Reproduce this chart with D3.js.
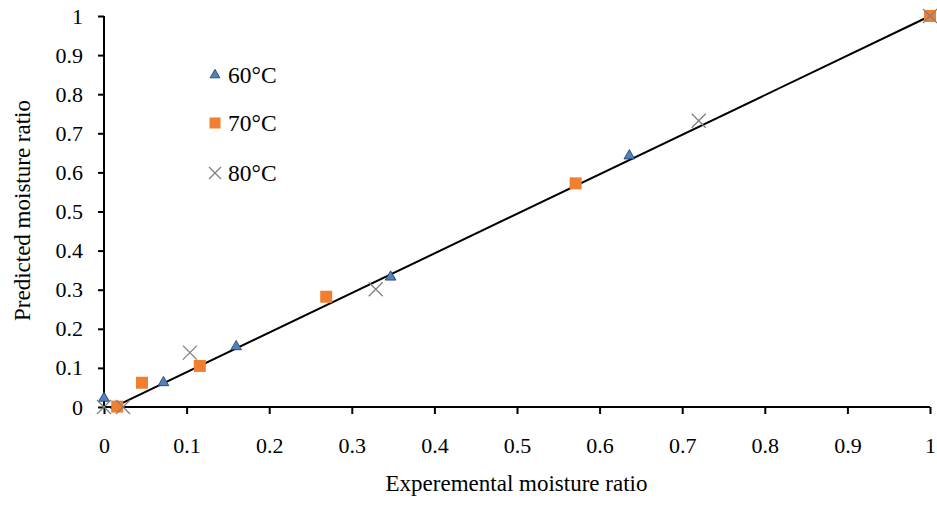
<!DOCTYPE html>
<html>
<head>
<meta charset="utf-8">
<script src="https://cdn.jsdelivr.net/npm/d3@7"></script>
<style>
  body { margin: 0; background: #fff; }
  text { font-family: "Liberation Serif", "Times New Roman", serif; }
</style>
</head>
<body>
<div id="chart-area"></div>
<script>
// data
var ticks = [0, 0.1, 0.2, 0.3, 0.4, 0.5, 0.6, 0.7, 0.8, 0.9, 1];
var x60 = [0, 0.072, 0.160, 0.347, 0.636, 1];
var y60 = [0.025, 0.065, 0.157, 0.335, 0.645, 1];
var x70 = [0.016, 0.046, 0.116, 0.269, 0.571, 1];
var y70 = [0.001, 0.062, 0.105, 0.282, 0.572, 1];
var x80 = [0, 0.023, 0.104, 0.329, 0.720, 1];
var y80 = [0, 0, 0.139, 0.301, 0.732, 1];
var lineX = [0.008, 1];
var lineY = [-0.004, 1];
var seriesNames = ["60°C", "70°C", "80°C"];

var margin = { left: 104, right: 6, top: 16, bottom: 101 };
var W = 937, H = 508;
var width = W - margin.left - margin.right,
    height = H - margin.top - margin.bottom;

var svg = d3.select("#chart-area").append("svg")
    .attr("width", W).attr("height", H);
var g = svg.append("g")
    .attr("transform", "translate(" + margin.left + "," + margin.top + ")");

var x = d3.scaleLinear().domain([0, 1]).range([0, width - 1]);
var y = d3.scaleLinear().domain([0, 1]).range([height, 0]);

// axes
var xAxis = g.append("g")
    .attr("transform", "translate(0," + height + ")")
    .call(d3.axisBottom(x).tickValues(ticks).tickSize(7).tickPadding(23)
        .tickFormat(function(d){ return +d; }));
var yAxis = g.append("g")
    .call(d3.axisLeft(y).tickValues(ticks).tickSize(6).tickPadding(15)
        .tickFormat(function(d){ return +d; }));
[xAxis, yAxis].forEach(function(a) {
    a.select(".domain").attr("stroke", "#000").attr("stroke-width", 2)
        .attr("d", a === xAxis ? "M0,0H" + (width - 1) : "M0," + height + "V0");
    a.selectAll(".tick line").attr("stroke", "#000").attr("stroke-width", 2);
    a.selectAll(".tick text").attr("font-size", "22px").attr("fill", "#000")
        .style("font-family", "'Liberation Serif', serif");
});

// axis titles
g.append("text")
    .attr("x", width / 2 - 1).attr("y", height + 84)
    .attr("text-anchor", "middle").attr("font-size", "23px")
    .text("Experemental moisture ratio");
g.append("text")
    .attr("transform", "rotate(-90)")
    .attr("x", -height / 2 + 1).attr("y", -74)
    .attr("text-anchor", "middle").attr("font-size", "23px")
    .text("Predicted moisture ratio");

// fitted line
g.append("line")
    .attr("x1", x(lineX[0])).attr("y1", y(lineY[0]))
    .attr("x2", x(lineX[1])).attr("y2", y(lineY[1]))
    .attr("stroke", "#000").attr("stroke-width", 2);

var tri = d3.symbol().type(d3.symbolTriangle).size(50);

function drawTri(sel) {
    sel.attr("d", tri).attr("fill", "#4f81bd").attr("stroke", "#1f3a60").attr("stroke-width", 0.8);
}
function drawSq(sel) {
    sel.attr("x", -6).attr("y", -6).attr("width", 12).attr("height", 12).attr("fill", "#f0802f");
}
function drawX(sel) {
    sel.attr("d", "M-7,-7L7,7M-7,7L7,-7").attr("stroke", "#7f7f7f").attr("stroke-width", 1.3).attr("fill", "none");
}

g.selectAll(".p60").data(x60).enter().append("path")
    .attr("transform", function(d, i){ return "translate(" + x(d) + "," + (y(y60[i]) + 1) + ")"; })
    .call(drawTri);
g.selectAll(".p70").data(x70).enter().append("rect")
    .attr("transform", function(d, i){ return "translate(" + x(d) + "," + y(y70[i]) + ")"; })
    .call(drawSq);
g.selectAll(".p80").data(x80).enter().append("path")
    .attr("transform", function(d, i){ return "translate(" + x(d) + "," + y(y80[i]) + ")"; })
    .call(drawX);

// legend
var leg = svg.append("g");
var legY = [75, 123, 173];
var items = leg.selectAll("g").data(seriesNames).enter().append("g")
    .attr("transform", function(d, i){ return "translate(215," + legY[i] + ")"; });
items.filter(function(d, i){ return i === 0; }).append("path").call(drawTri)
    .attr("d", d3.symbol().type(d3.symbolTriangle).size(42));
items.filter(function(d, i){ return i === 1; }).append("rect").call(drawSq)
    .attr("x", -5.5).attr("y", -5.5).attr("width", 11).attr("height", 11);
items.filter(function(d, i){ return i === 2; }).append("path").call(drawX)
    .attr("d", "M-6,-6L6,6M-6,6L6,-6");
items.append("text")
    .attr("x", 13).attr("y", 8)
    .attr("font-size", "23.5px")
    .text(function(d){ return d; });
</script>
</body>
</html>
